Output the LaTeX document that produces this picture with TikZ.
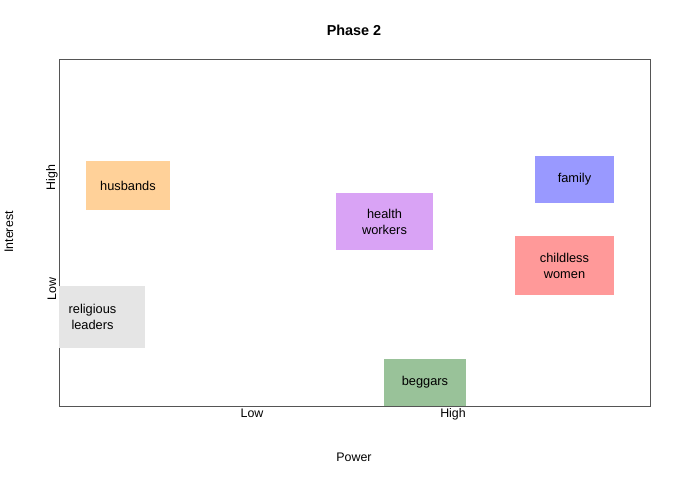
\documentclass[tikz,border=0pt]{standalone}
\usepackage{fontspec}
\setmainfont{Liberation Sans}
\usepackage{tikz}
\usetikzlibrary{positioning}
\definecolor{husbandorange}{HTML}{FFD199}
\definecolor{religiousgray}{HTML}{E5E5E5}
\definecolor{healthpurple}{HTML}{D9A3F5}
\definecolor{familyblue}{HTML}{9999FF}
\definecolor{childlessred}{HTML}{FF9999}
\definecolor{beggarsgreen}{HTML}{99C299}
\definecolor{framegray}{HTML}{555555}

\begin{document}
\begin{tikzpicture}[
    x=0.75pt, y=-0.75pt,
    group/.style={inner sep=0pt, align=center,
      font=\fontsize{9.6}{12}\selectfont},
    axislabel/.style={inner sep=0pt, font=\fontsize{9.3}{11}\selectfont},
    plotframe/.style={draw=framegray, line width=0.6pt},
]
\useasboundingbox (0,0) rectangle (680,480);
\node[font=\fontsize{10.8}{12}\selectfont\bfseries, inner sep=0pt] (title) at (354,30) {Phase 2};
\draw[plotframe] (59,59) rectangle (650,406);
% stakeholder groups
\node[group, fill=husbandorange, minimum width=63pt, minimum height=36.75pt] (husbands) at (128,185.5) {husbands};
\node[group, fill=religiousgray, minimum width=64.5pt, minimum height=46.5pt] (religious) at (102,317) {};
\node[group] (religioustext) at (92.5,317) {religious\\leaders};
\node[group, fill=healthpurple, minimum width=72.75pt, minimum height=42.75pt] (health) at (384.5,221.5) {health\\workers};
\node[group, fill=familyblue, minimum width=59.25pt, minimum height=35.25pt] (family) at (574.5,179.5) {family};
\node[group, fill=childlessred, minimum width=74.25pt, minimum height=44.25pt] (childless) at (564.5,265.5) {childless\\women};
\node[group, fill=beggarsgreen, minimum width=61.5pt, minimum height=35.25pt] (beggars) at (425,382.5) {beggars};
\draw[framegray, line width=0.6pt] (59,406) -- (650,406);
% axes
\node[axislabel, anchor=base] (powerlow) at (252,417.5) {Low};
\node[axislabel, anchor=base] (powerhigh) at (453,417.5) {High};
\node[axislabel] (power) at (354,457) {Power};
\node[axislabel, rotate=90] (interesthigh) at (52,177.5) {High};
\node[axislabel, rotate=90] (interestlow) at (52,289) {Low};
\node[axislabel, rotate=90] (interest) at (9,232) {Interest};
\end{tikzpicture}
\end{document}
